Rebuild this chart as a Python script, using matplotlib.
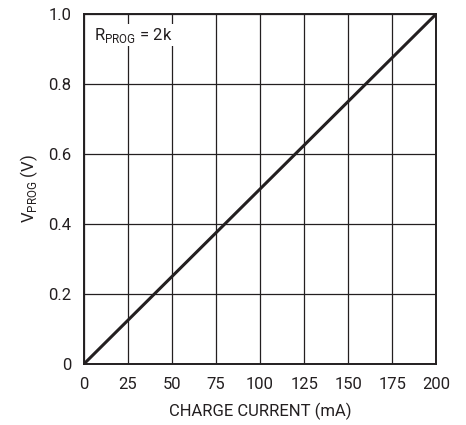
import matplotlib.pyplot as plt

current = [0, 200]
vprog = [0, 1.0]
xticks = [0, 25, 50, 75, 100, 125, 150, 175, 200]
yticks = [0, 0.2, 0.4, 0.6, 0.8, 1.0]
ylabels = ["0", "0.2", "0.4", "0.6", "0.8", "1.0"]

plt.rcParams['font.family'] = ['Roboto', 'DejaVu Sans']
plt.rcParams['font.size'] = 12
ink = '#231f20'

fig = plt.figure(figsize=(4.66, 4.25), dpi=100)
ax = fig.add_axes([0.180, 0.1435, 0.756, 0.8235])

ax.plot(current, vprog, color=ink, lw=2.2, solid_capstyle='butt', zorder=3)

ax.set_xlim(0, 200)
ax.set_ylim(0, 1.0)
ax.set_xticks(xticks)
ax.set_yticks(yticks)
ax.set_yticklabels(ylabels)
ax.tick_params(axis='x', length=0, pad=9, colors=ink)
ax.tick_params(axis='y', length=0, pad=9, colors=ink)
ax.grid(True, color=ink, lw=0.9)
for s in ax.spines.values():
    s.set_linewidth(1.4)
    s.set_color(ink)

ax.set_xlabel("CHARGE CURRENT (mA)", color=ink, labelpad=8)
ax.set_ylabel(r"V$_{\mathregular{PROG}}$ (V)", color=ink, labelpad=6)
ax.text(6, 0.94, r"R$_{\mathregular{PROG}}$ = 2k", color=ink, va='center', ha='left',
        bbox=dict(facecolor='white', edgecolor='none', pad=1))

fig.savefig("out.png", dpi=100)
